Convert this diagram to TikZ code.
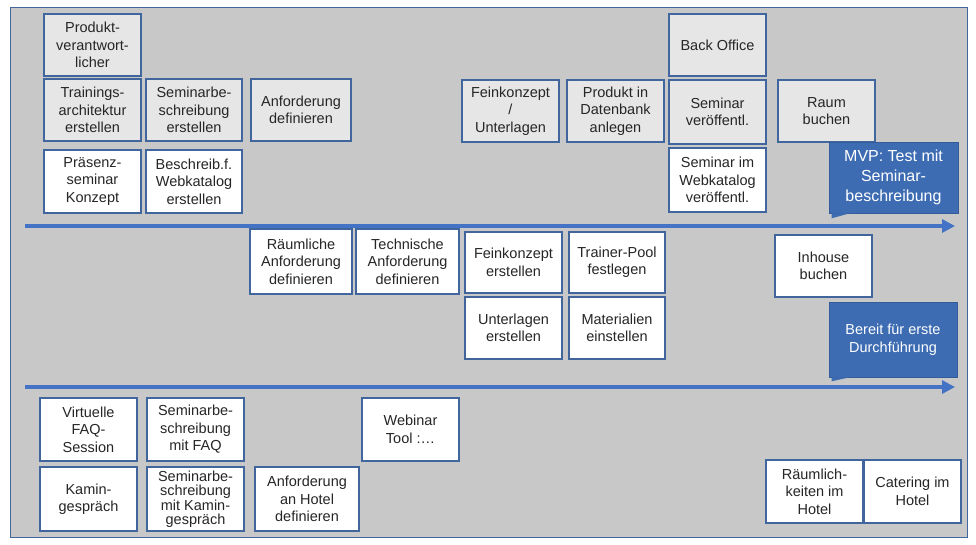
\documentclass[tikz,border=0pt]{standalone}
\usepackage{fontspec}
\setmainfont{Liberation Sans}
\usetikzlibrary{arrows.meta}
\definecolor{bggray}{HTML}{C8C8C8}
\definecolor{boxgray}{HTML}{E6E6E6}
\definecolor{boxblue}{HTML}{41669E}
\definecolor{arrowblue}{HTML}{4472C4}
\definecolor{calloutblue}{HTML}{3D6CB3}
\definecolor{textgray}{HTML}{262626}
\begin{document}
\begin{tikzpicture}[x=1pt,y=-1pt,
	task/.style ={rectangle, draw=boxblue, line width=1.3pt, fill=white, align=center, inner sep=1pt, text=textgray, minimum width=97pt, minimum height=62pt, font=\fontsize{14.5}{17.5}\selectfont},
	taskgray/.style ={task, fill=boxgray},
	milestone/.style ={rectangle, draw=calloutblue!85!black, line width=0.6pt, fill=calloutblue, align=center, text=white, inner sep=1pt},
	timeline/.style ={draw=arrowblue, line width=3.2pt, -{Triangle[length=13pt,width=13pt]}}]
		\useasboundingbox (0,0) rectangle (976,545);
		\draw[fill=bggray, draw=boxblue, line width=1pt] (10,8) rectangle (967,537);
		% Zeitachsen
		\coordinate (t1s) at (25,226);
		\coordinate (t1e) at (955,226);
		\coordinate (t2s) at (25,387);
		\coordinate (t2e) at (955,387);
		\draw[timeline] (t1s) -- (t1e);
		\draw[timeline] (t2s) -- (t2e);
		% erste Stufe
		\node[taskgray] (prod) at (92.5,45) {Produkt-\\verantwort-\\licher};
		\node[taskgray] (train) at (92.5,110) {Trainings-\\architektur\\erstellen};
		\node[taskgray, minimum width=96pt] (sbes) at (194,110) {Seminarbe-\\schreibung\\erstellen};
		\node[taskgray, minimum width=100pt] (anf) at (301,110) {Anforderung\\definieren};
		\node[task, minimum height=63pt] (praes) at (92.5,181.5) {Präsenz-\\seminar\\Konzept};
		\node[task, minimum width=96pt, minimum height=63pt] (webk) at (194,181.5) {Beschreib.f.\\Webkatalog\\erstellen};
		\node[taskgray] (fein) at (510.5,111) {Feinkonzept\\/\\Unterlagen};
		\node[taskgray] (dbank) at (615.5,111) {Produkt in\\Datenbank\\anlegen};
		\node[taskgray] (back) at (717.5,45) {Back Office};
		\node[taskgray, minimum height=64pt] (veroe) at (717.5,112) {Seminar\\veröffentl.};
		\node[task, minimum height=64pt] (wveroe) at (717.5,180) {Seminar im\\Webkatalog\\veröffentl.};
		\node[taskgray] (raum) at (826.5,111) {Raum\\buchen};
		\node[milestone, minimum width=129pt, minimum height=71pt, font=\fontsize{16}{20}\selectfont] (mvp) at (893.5,177.5) {MVP: Test mit\\Seminar-\\beschreibung};
		\fill[calloutblue] ([xshift=3pt]mvp.south west) -- ([xshift=21pt]mvp.south west) -- ([xshift=3pt,yshift=-5pt]mvp.south west) -- cycle;
		% zweite Stufe
		\node[task, minimum width=102pt, minimum height=65pt] (rauma) at (301,261.5) {Räumliche\\Anforderung\\definieren};
		\node[task, minimum width=103pt, minimum height=65pt] (techa) at (407.5,261.5) {Technische\\Anforderung\\definieren};
		\node[task, minimum height=61pt] (feinerst) at (513.5,262.5) {Feinkonzept\\erstellen};
		\node[task, minimum width=96pt, minimum height=61pt] (pool) at (617,262.5) {Trainer-Pool\\festlegen};
		\node[task] (unterl) at (513.5,328) {Unterlagen\\erstellen};
		\node[task, minimum width=96pt] (mat) at (617,328) {Materialien\\einstellen};
		\node[task] (inhouse) at (823.5,266) {Inhouse\\buchen};
		\node[milestone, minimum width=128pt, minimum height=75pt, font=\fontsize{14.5}{18}\selectfont] (bereit) at (893,339.5) {Bereit für erste\\Durchführung};
		\fill[calloutblue] ([xshift=3pt]bereit.south west) -- ([xshift=21pt]bereit.south west) -- ([xshift=3pt,yshift=-4pt]bereit.south west) -- cycle;
		% dritte Stufe
		\node[task, minimum height=63pt] (faq) at (88.5,429.5) {Virtuelle\\FAQ-\\Session};
		\node[task, minimum height=63pt] (sfaq) at (195.5,429.5) {Seminarbe-\\schreibung\\mit FAQ};
		\node[task, minimum height=63pt] (webinar) at (410.5,429.5) {Webinar\\Tool :\dots};
		\node[task, minimum height=64pt] (kamin) at (88.5,499) {Kamin-\\gespräch};
		\node[task, minimum height=64pt, font=\fontsize{14.5}{14.5}\selectfont] (skamin) at (195.5,499) {Seminarbe-\\schreibung\\mit Kamin-\\gespräch};
		\node[task, minimum width=104pt, minimum height=64pt] (hotel) at (307,499) {Anforderung\\an Hotel\\definieren};
		\node[task, minimum height=63pt] (hraum) at (814.5,491.5) {Räumlich-\\keiten im\\Hotel};
		\node[task, minimum height=63pt] (cater) at (912.5,491.5) {Catering im\\Hotel};
	\end{tikzpicture}
\end{document}
